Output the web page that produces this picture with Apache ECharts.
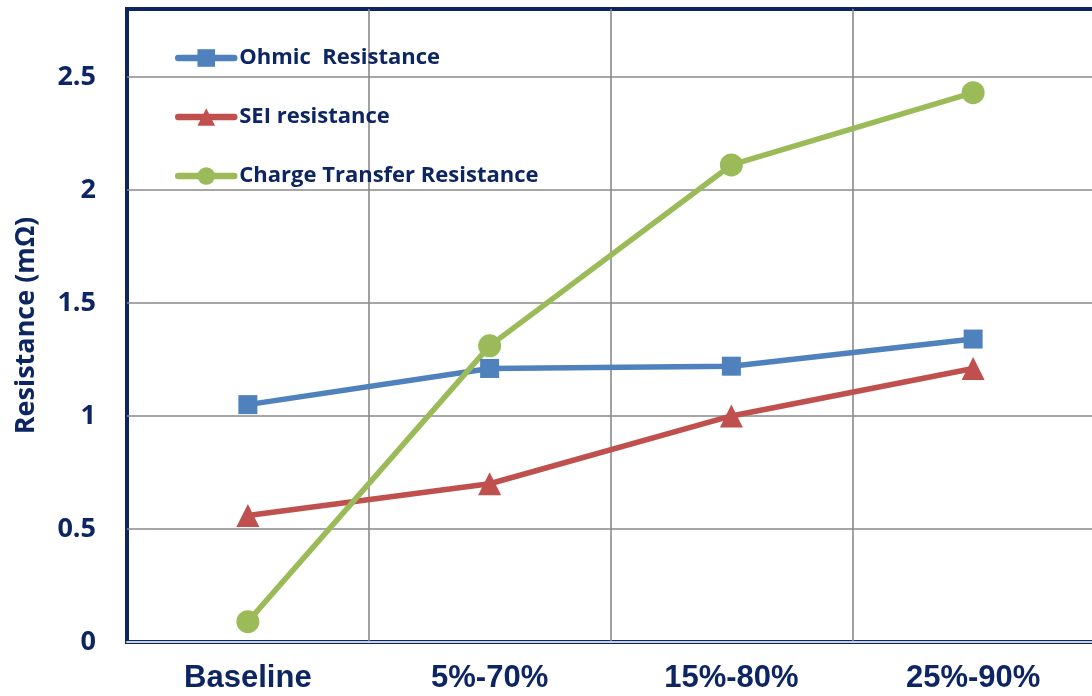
<!DOCTYPE html>
<html>
<head>
<meta charset="utf-8">
<script src="https://cdn.jsdelivr.net/npm/echarts@6/dist/echarts.min.js"></script>
<style>
  html, body { margin: 0; padding: 0; background: #ffffff; }
  #chart { width: 1092px; height: 696px; }
</style>
</head>
<body>
<div id="chart"></div>
<script>
// Test conditions along the x axis
const categories = ['Baseline', '5%-70%', '15%-80%', '25%-90%'];

// Resistance values (mΩ)
const ohmicResistance = [1.05, 1.21, 1.22, 1.34];
const seiResistance = [0.56, 0.70, 1.00, 1.21];
const chargeTransferResistance = [0.09, 1.31, 2.11, 2.43];

const seriesNames = ['Ohmic  Resistance', 'SEI resistance', 'Charge Transfer Resistance'];

const NAVY = '#0d2562';
const GRID_GRAY = '#8a8a8a';
const LINE_WIDTH = 5.5;

const chart = echarts.init(document.getElementById('chart'), null, { renderer: 'canvas' });

function lineSeries(name, data, color, symbol, size) {
  return {
    name: name,
    type: 'line',
    data: data,
    symbol: symbol,
    symbolSize: size,
    showAllSymbol: true,
    lineStyle: { color: color, width: LINE_WIDTH, cap: 'round', join: 'round' },
    itemStyle: { color: color },
    emphasis: { disabled: true },
    z: 3
  };
}

chart.setOption({
  animation: false,
  backgroundColor: '#ffffff',
  grid: {
    show: true,
    outerBoundsMode: 'none',
    containLabel: false,
    left: 127,
    right: -2,
    top: 9,
    bottom: 54,
    borderColor: NAVY,
    borderWidth: 4,
    backgroundColor: 'transparent'
  },
  legend: {
    orient: 'vertical',
    left: 170,
    top: 42,
    itemWidth: 56,
    itemHeight: 22,
    itemGap: 37,
    data: seriesNames,
    lineStyle: { width: 6.5, cap: 'round' },
    textStyle: {
      fontFamily: '"Open Sans", sans-serif',
      fontWeight: 'bold',
      fontSize: 22,
      color: NAVY
    }
  },
  xAxis: {
    type: 'category',
    data: categories,
    boundaryGap: true,
    axisLine: { show: true, lineStyle: { color: '#c9d0de', width: 2 } },
    axisTick: { show: false },
    axisLabel: {
      margin: 21,
      fontFamily: '"Liberation Sans", Arial, sans-serif',
      fontWeight: 'bold',
      fontSize: 31,
      color: NAVY
    },
    splitLine: {
      show: true,
      showMinLine: false,
      showMaxLine: false,
      lineStyle: { color: GRID_GRAY, width: 1.6 }
    }
  },
  yAxis: {
    type: 'value',
    min: 0,
    max: 2.8,
    interval: 0.5,
    name: 'Resistance (mΩ)',
    nameLocation: 'middle',
    nameGap: 87,
    nameTextStyle: {
      fontFamily: '"Open Sans", sans-serif',
      fontWeight: 'bold',
      fontSize: 27,
      color: NAVY
    },
    axisLine: { show: false },
    axisTick: { show: false },
    axisLabel: {
      showMaxLabel: false,
      margin: 31,
      fontFamily: '"Open Sans", sans-serif',
      fontWeight: 'bold',
      fontSize: 27,
      color: NAVY
    },
    splitLine: {
      show: true,
      showMinLine: false,
      showMaxLine: false,
      lineStyle: { color: GRID_GRAY, width: 1.6 }
    }
  },
  series: [
    lineSeries(seriesNames[0], ohmicResistance, '#4f81bd', 'rect', 19),
    lineSeries(seriesNames[1], seiResistance, '#c0504d', 'triangle', 23),
    lineSeries(seriesNames[2], chargeTransferResistance, '#9bbb59', 'circle', 23)
  ]
});
</script>
</body>
</html>
